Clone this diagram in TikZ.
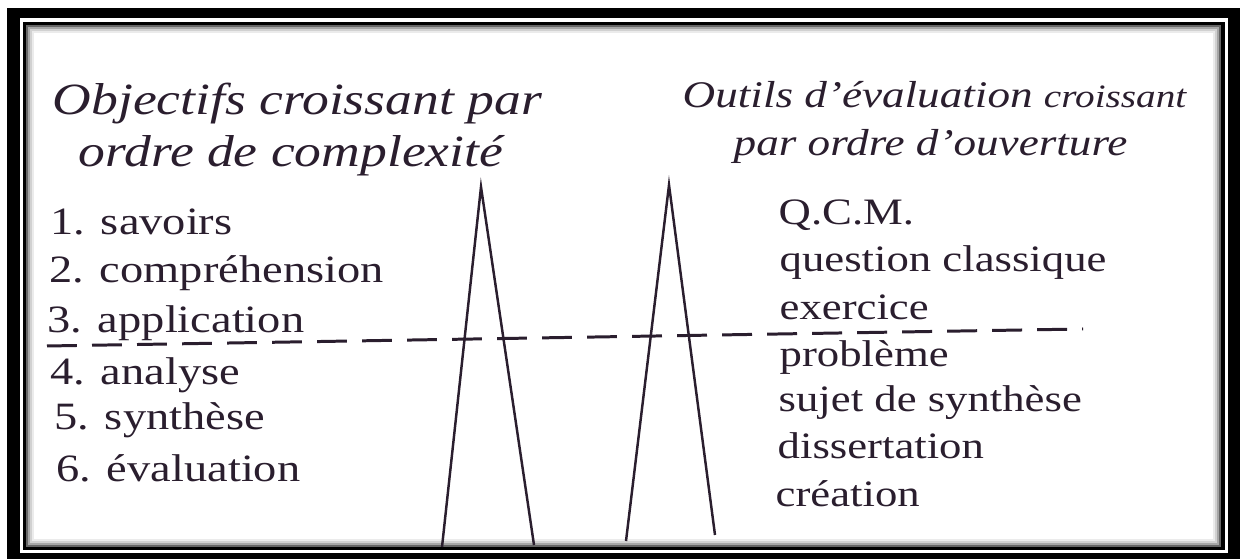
\documentclass[tikz,border=0pt]{standalone}
\usepackage{fontspec}
\setmainfont[FakeStretch=1.2]{Liberation Serif}
\usepackage{tikz}
\usetikzlibrary{positioning}
\definecolor{ink}{RGB}{42,30,46}

\begin{document}
\begin{tikzpicture}[x=0.01cm, y=-0.01cm,
  objitem/.style={anchor=base west, inner sep=0pt, text=ink, font=\fontsize{11}{13}\selectfont},
  toolitem/.style={anchor=base west, inner sep=0pt, text=ink, font=\fontsize{10.6}{13}\selectfont},
  headleft/.style={anchor=base west, inner sep=0pt, text=ink, font=\fontsize{12.7}{15}\selectfont\itshape},
  headright/.style={anchor=base west, inner sep=0pt, text=ink, font=\fontsize{10.7}{13}\selectfont\itshape},
  leg/.style={draw=ink, line width=0.7pt},
  cut/.style={draw=ink, line width=0.85pt, dash pattern=on 8.5pt off 4.3pt}]
  \useasboundingbox (0,0) rectangle (1240,559);
  \fill[black] (7,8) rectangle (1240,559);
  \fill[white] (20,18) rectangle (1228,553);
  \fill[black] (23,22) rectangle (1225,550);
  \fill[white] (26,25) rectangle (1221,547);
  \foreach \i/\c in {1/60,3/35,5/18,7/8}
    \draw[black!\c, line width=0.6pt] (26+\i,25+\i) rectangle (1221-\i,547-\i);

  \node[headleft] (objA) at (52,115) {Objectifs croissant par};
  \node[headleft] (objB) at (78,167) {ordre de complexité};
  \node[headright] (outA) at (682,108) {Outils d'évaluation {\fontsize{9.3}{11}\selectfont croissant}};
  \node[headright] (outB) at (733,156) {par ordre d'ouverture};

  \node[objitem] (sav) at (50,235) {1. savoirs};
  \node[objitem] (comp) at (49,283) {2. compréhension};
  \node[objitem] (appl) at (47,333) {3. application};
  \node[objitem] (anal) at (50,385) {4. analyse};
  \node[objitem] (synth) at (54,430) {5. synthèse};
  \node[objitem] (eval) at (56,482) {6. évaluation};

  \node[toolitem] (qcm) at (778,225) {Q.C.M.};
  \node[toolitem] (quest) at (779,272) {question classique};
  \node[toolitem] (exer) at (779,320) {exercice};
  \node[toolitem] (prob) at (779,367) {problème};
  \node[toolitem] (sujet) at (778,412) {sujet de synthèse};
  \node[toolitem] (diss) at (777,459) {dissertation};
  \node[toolitem] (crea) at (775,507) {création};

  \coordinate (cutL) at (47,346);
  \coordinate (cutR) at (1083,329);
  \draw[cut] (cutL) -- (cutR);

  \coordinate (apexA) at (481,187);
  \coordinate (footAl) at (442,547);
  \coordinate (footAr) at (534,545);
  \draw[leg] (footAl) -- (apexA) -- (footAr);
  \coordinate (apexB) at (669,185);
  \coordinate (footBl) at (626,541);
  \coordinate (footBr) at (715,535);
  \draw[leg] (footBl) -- (apexB) -- (footBr);
\end{tikzpicture}
\end{document}
